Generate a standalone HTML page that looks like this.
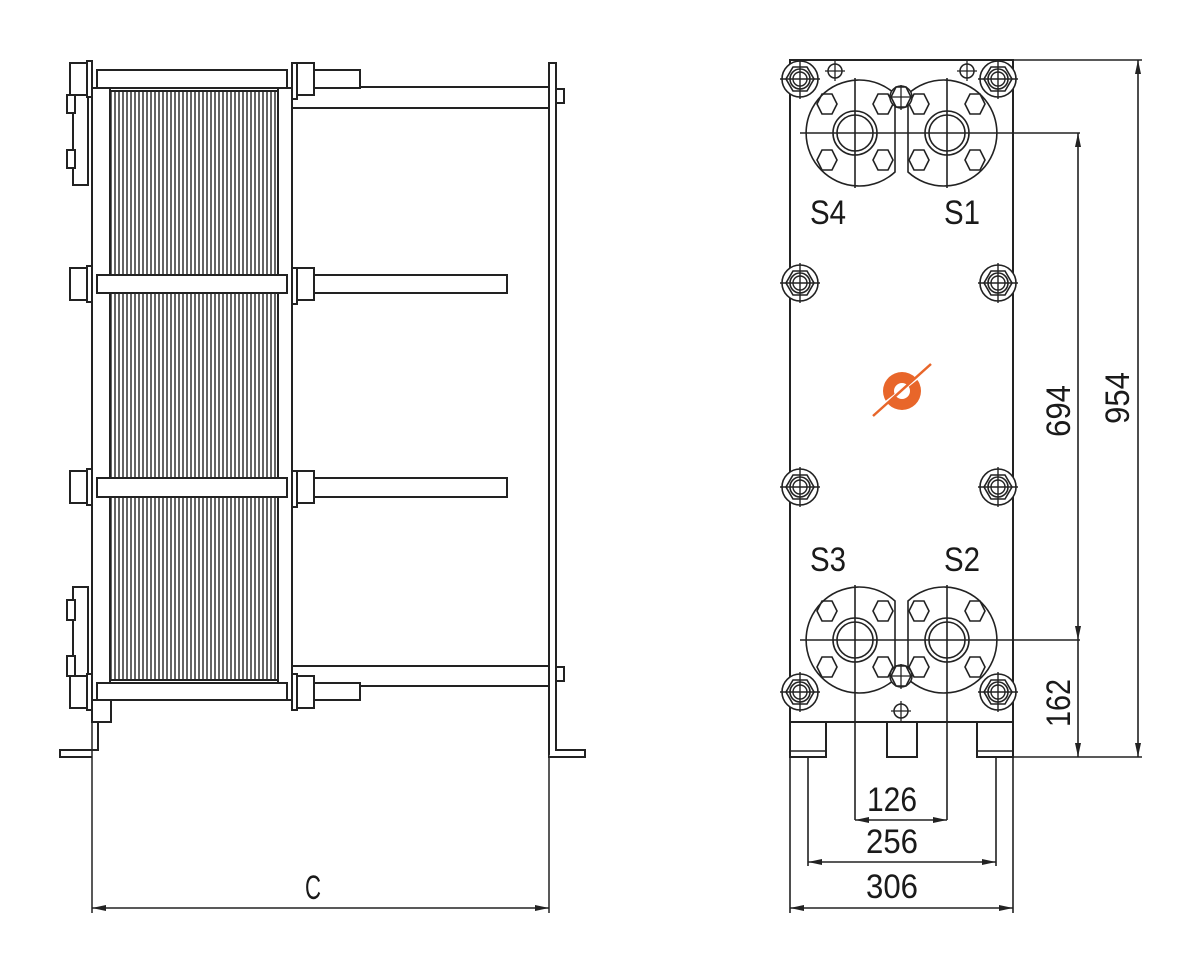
<!DOCTYPE html>
<html><head><meta charset="utf-8"><style>
html,body{margin:0;padding:0;background:#fff}
svg{display:block}
text{font-family:"Liberation Sans",sans-serif;fill:#1a1a1a}
</style></head><body>
<svg width="1200" height="971" viewBox="0 0 1200 971" xmlns="http://www.w3.org/2000/svg">
<defs>
<pattern id="pl" x="110" y="0" width="4" height="10" patternUnits="userSpaceOnUse">
<rect width="4" height="10" fill="#fff"/><line x1="1" y1="0" x2="1" y2="10" stroke="#222" stroke-width="1.4"/>
</pattern>
<marker id="ar" viewBox="0 0 14 6" refX="14" refY="3" markerWidth="14" markerHeight="6" orient="auto-start-reverse" markerUnits="userSpaceOnUse">
<path d="M0,0 L14,3 L0,6 Z" fill="#222"/></marker>
<g id="cb">
<circle r="18" fill="#fff" stroke="#222" stroke-width="1.6"/>
<polygon points="14,0 7,12 -7,12 -14,0 -7,-12 7,-12" fill="none" stroke="#222" stroke-width="1.6"/>
<circle r="10" fill="none" stroke="#222" stroke-width="1.6"/>
<circle r="7" fill="none" stroke="#222" stroke-width="1.4"/>
<line x1="-20" y1="0" x2="20" y2="0" stroke="#222" stroke-width="1.4"/>
<line x1="0" y1="-20" x2="0" y2="20" stroke="#222" stroke-width="1.4"/>
</g>
<g id="hx"><polygon points="10,0 5,10 -5,10 -10,0 -5,-10 5,-10" fill="none" stroke="#222" stroke-width="1.6"/></g>
<g id="sc"><circle r="7" fill="#fff" stroke="#222" stroke-width="1.5"/><line x1="-10" y1="0" x2="10" y2="0" stroke="#222" stroke-width="1.3"/><line x1="0" y1="-10" x2="0" y2="10" stroke="#222" stroke-width="1.3"/></g>
</defs>

<g fill="#fff" stroke="#222" stroke-width="2">
<rect x="292" y="87" width="258" height="21"/>
<rect x="292" y="666" width="258" height="20"/>
<rect x="549" y="63" width="7" height="694"/>
<path d="M556,740 L556,750 L585,750 L585,757 L549,757" />
<rect x="556" y="89" width="8" height="14"/>
<rect x="556" y="667" width="8" height="14"/>
<path d="M98,700 L98,750 L60,750 L60,757 L92,757"/>
<rect x="92" y="700" width="19" height="22"/>
<rect x="92" y="88" width="18" height="612"/>
<rect x="110" y="91" width="168" height="589" fill="url(#pl)"/>
<rect x="278" y="88" width="14" height="612"/>
<rect x="73" y="92" width="15" height="93"/>
<rect x="67" y="95" width="8" height="18"/>
<rect x="67" y="150" width="8" height="18"/>
<rect x="73" y="587" width="15" height="91"/>
<rect x="67" y="600" width="8" height="20"/>
<rect x="67" y="656" width="8" height="20"/>
<rect x="97" y="70" width="190" height="18"/>
<rect x="313" y="70" width="47" height="18"/>
<rect x="97" y="275" width="190" height="18"/>
<rect x="313" y="275" width="194" height="18"/>
<rect x="97" y="478" width="190" height="19"/>
<rect x="313" y="478" width="194" height="19"/>
<rect x="97" y="683" width="190" height="17"/>
<rect x="313" y="683" width="47" height="17"/>
<rect x="70" y="63" width="17" height="32"/><rect x="87" y="61" width="5" height="36"/>
<rect x="292" y="63" width="5" height="36"/><rect x="297" y="63" width="17" height="32"/>
<rect x="70" y="268" width="17" height="32"/><rect x="87" y="266" width="5" height="36"/>
<rect x="292" y="268" width="5" height="36"/><rect x="297" y="268" width="17" height="32"/>
<rect x="70" y="471" width="17" height="32"/><rect x="87" y="469" width="5" height="36"/>
<rect x="292" y="471" width="5" height="36"/><rect x="297" y="471" width="17" height="32"/>
<rect x="70" y="676" width="17" height="32"/><rect x="87" y="674" width="5" height="36"/>
<rect x="292" y="674" width="5" height="36"/><rect x="297" y="676" width="17" height="32"/>
</g>
<g stroke="#222" stroke-width="1.5" fill="none">
<line x1="92" y1="722" x2="92" y2="913"/>
<line x1="549" y1="757" x2="549" y2="913"/>
<line x1="92" y1="908" x2="549" y2="908" marker-start="url(#ar)" marker-end="url(#ar)"/>
</g>
<text x="313" y="899" font-size="34" text-anchor="middle" textLength="16" lengthAdjust="spacingAndGlyphs">C</text>

<g fill="#fff" stroke="#222" stroke-width="2">
<rect x="790" y="60" width="223" height="662"/>
<rect x="790" y="722" width="36" height="35"/>
<rect x="887" y="722" width="30" height="35"/>
<rect x="977" y="722" width="36" height="35"/>
</g>
<g stroke="#222" stroke-width="1.6" fill="none">
<line x1="790" y1="751" x2="826" y2="751"/>
<line x1="977" y1="751" x2="1013" y2="751"/>
<!-- flanges -->
<path d="M895,94 A53,53 0 1 0 895,172 Z"/>
<path d="M908,94 A53,53 0 1 1 908,172 Z"/>
<path d="M895,601 A53,53 0 1 0 895,679 Z"/>
<path d="M908,601 A53,53 0 1 1 908,679 Z"/>
<circle cx="855" cy="133" r="22"/><circle cx="855" cy="133" r="18"/>
<circle cx="947" cy="133" r="22"/><circle cx="947" cy="133" r="18"/>
<circle cx="855" cy="640" r="22"/><circle cx="855" cy="640" r="18"/>
<circle cx="947" cy="640" r="22"/><circle cx="947" cy="640" r="18"/>
<line x1="800" y1="133" x2="1080" y2="133"/>
<line x1="800" y1="640" x2="1080" y2="640"/>
<line x1="855" y1="78" x2="855" y2="188"/>
<line x1="947" y1="78" x2="947" y2="188"/>
<line x1="855" y1="585" x2="855" y2="820"/>
<line x1="947" y1="585" x2="947" y2="820"/>
<line x1="1013" y1="60" x2="1142" y2="60"/>
<line x1="1013" y1="757" x2="1142" y2="757"/>
<line x1="1138" y1="60" x2="1138" y2="757" marker-start="url(#ar)" marker-end="url(#ar)"/>
<line x1="1078" y1="133" x2="1078" y2="640" marker-start="url(#ar)" marker-end="url(#ar)"/>
<line x1="1078" y1="640" x2="1078" y2="757" marker-end="url(#ar)"/>
<line x1="808" y1="757" x2="808" y2="866"/>
<line x1="996" y1="757" x2="996" y2="866"/>
<line x1="790" y1="757" x2="790" y2="913"/>
<line x1="1013" y1="757" x2="1013" y2="913"/>
<line x1="855" y1="820" x2="947" y2="820" marker-start="url(#ar)" marker-end="url(#ar)"/>
<line x1="808" y1="862" x2="996" y2="862" marker-start="url(#ar)" marker-end="url(#ar)"/>
<line x1="790" y1="908" x2="1013" y2="908" marker-start="url(#ar)" marker-end="url(#ar)"/>
</g>
<use href="#hx" x="827" y="104"/><use href="#hx" x="883" y="104"/><use href="#hx" x="827" y="160"/><use href="#hx" x="883" y="160"/>
<use href="#hx" x="919" y="104"/><use href="#hx" x="975" y="104"/><use href="#hx" x="919" y="160"/><use href="#hx" x="975" y="160"/>
<use href="#hx" x="827" y="611"/><use href="#hx" x="883" y="611"/><use href="#hx" x="827" y="667"/><use href="#hx" x="883" y="667"/>
<use href="#hx" x="919" y="611"/><use href="#hx" x="975" y="611"/><use href="#hx" x="919" y="667"/><use href="#hx" x="975" y="667"/>
<g stroke="#222" stroke-width="1.5" fill="#fff">
<circle cx="901" cy="97" r="11"/><circle cx="901" cy="676" r="11"/></g>
<use href="#hx" x="901" y="97"/>
<use href="#hx" x="901" y="676"/>
<g stroke="#222" stroke-width="1.3"><line x1="901" y1="85" x2="901" y2="110"/><line x1="890" y1="97" x2="912" y2="97"/><line x1="901" y1="664" x2="901" y2="689"/><line x1="890" y1="676" x2="912" y2="676"/></g>
<use href="#cb" x="800" y="79"/><use href="#cb" x="998" y="79"/>
<use href="#cb" x="800" y="283"/><use href="#cb" x="998" y="283"/>
<use href="#cb" x="800" y="487"/><use href="#cb" x="998" y="487"/>
<use href="#cb" x="800" y="692"/><use href="#cb" x="998" y="692"/>
<use href="#sc" x="835" y="71"/><use href="#sc" x="967" y="71"/><use href="#sc" x="901" y="711"/>
<circle cx="902" cy="391" r="19" fill="#e8662a"/>
<circle cx="902" cy="391" r="8" fill="#fff"/>
<path d="M884,404 L920,376" stroke="#fff" stroke-width="3"/>
<path d="M873,416 L931,364" stroke="#e8662a" stroke-width="2.5"/>
<g font-size="34">
<text x="828" y="224" text-anchor="middle" textLength="36" lengthAdjust="spacingAndGlyphs">S4</text>
<text x="962" y="224" text-anchor="middle" textLength="36" lengthAdjust="spacingAndGlyphs">S1</text>
<text x="828" y="571" text-anchor="middle" textLength="36" lengthAdjust="spacingAndGlyphs">S3</text>
<text x="962" y="571" text-anchor="middle" textLength="36" lengthAdjust="spacingAndGlyphs">S2</text>
<text x="892" y="811" text-anchor="middle" textLength="50" lengthAdjust="spacingAndGlyphs">126</text>
<text x="892" y="853" text-anchor="middle" textLength="52" lengthAdjust="spacingAndGlyphs">256</text>
<text x="892" y="898" text-anchor="middle" textLength="52" lengthAdjust="spacingAndGlyphs">306</text>
<text transform="translate(1070,411) rotate(-90)" text-anchor="middle" textLength="52" lengthAdjust="spacingAndGlyphs">694</text>
<text transform="translate(1129,398) rotate(-90)" text-anchor="middle" textLength="52" lengthAdjust="spacingAndGlyphs">954</text>
<text transform="translate(1070,703) rotate(-90)" text-anchor="middle" textLength="48" lengthAdjust="spacingAndGlyphs">162</text>
</g>
</svg>
</body></html>
